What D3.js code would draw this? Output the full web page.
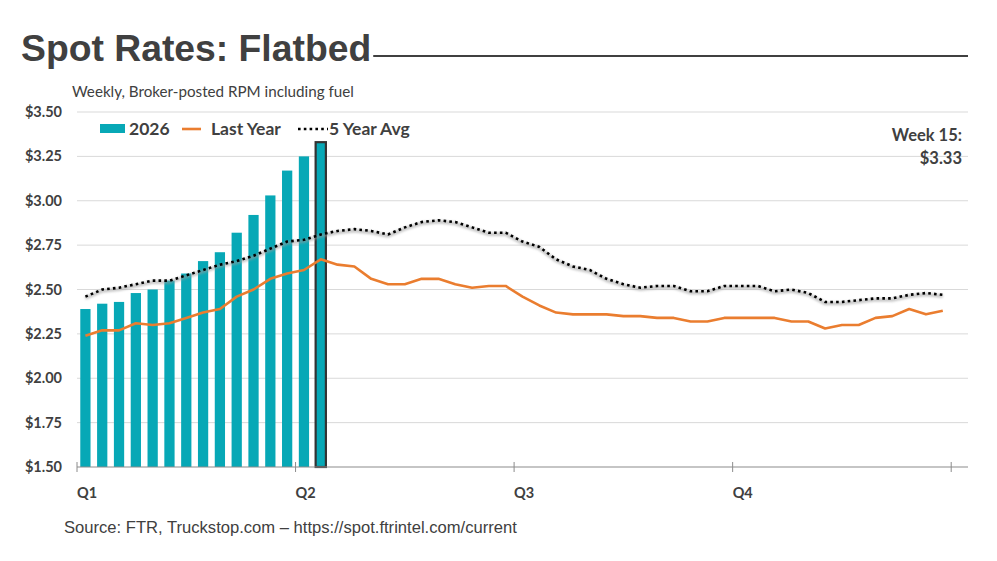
<!DOCTYPE html>
<html>
<head>
<meta charset="utf-8">
<script src="https://cdn.jsdelivr.net/npm/d3@7"></script>
<style>
  body { margin: 0; background: #fff; }
  svg { display: block; }
</style>
</head>
<body>
<div id="chart"></div>
<script>
// --- Data ---
const weeks = d3.range(1, 54);            // 53 category slots, ticks every 13
const quarterLabels = ["Q1", "Q2", "Q3", "Q4", ""];
const yTicks = [1.5, 1.75, 2.0, 2.25, 2.5, 2.75, 3.0, 3.25, 3.5];

const rates2026 = [2.39, 2.42, 2.43, 2.48, 2.50, 2.55, 2.59, 2.66, 2.71, 2.82,
                   2.92, 3.03, 3.17, 3.25, 3.33];

const lastYear = [2.24, 2.27, 2.27, 2.31, 2.30, 2.31, 2.34, 2.37, 2.39, 2.46,
                  2.50, 2.56, 2.59, 2.61, 2.67, 2.64, 2.63, 2.56, 2.53, 2.53,
                  2.56, 2.56, 2.53, 2.51, 2.52, 2.52, 2.46, 2.41, 2.37, 2.36,
                  2.36, 2.36, 2.35, 2.35, 2.34, 2.34, 2.32, 2.32, 2.34, 2.34,
                  2.34, 2.34, 2.32, 2.32, 2.28, 2.30, 2.30, 2.34, 2.35, 2.39,
                  2.36, 2.38];

const fiveYearAvg = [2.46, 2.50, 2.51, 2.53, 2.55, 2.55, 2.58, 2.61, 2.64, 2.66,
                     2.69, 2.73, 2.77, 2.78, 2.81, 2.83, 2.84, 2.83, 2.81, 2.85,
                     2.88, 2.89, 2.88, 2.85, 2.82, 2.82, 2.77, 2.74, 2.67, 2.63,
                     2.61, 2.56, 2.53, 2.51, 2.52, 2.52, 2.49, 2.49, 2.52, 2.52,
                     2.52, 2.49, 2.50, 2.48, 2.43, 2.43, 2.44, 2.45, 2.45, 2.47,
                     2.48, 2.47];

const currentWeek = 15;

// --- Setup ---
const width = 997, height = 561;
const margin = { left: 77, right: 29, top: 112, bottom: 94 };
const textColor = "#404040";
const calibri = "Lato, 'Open Sans', sans-serif";
const arial = "'Liberation Sans', Arial, sans-serif";

const svg = d3.select("#chart").append("svg")
    .attr("width", width)
    .attr("height", height);

const defs = svg.append("defs");
defs.append("filter").attr("id", "soft")
    .attr("x", "-5%").attr("y", "-50%").attr("width", "110%").attr("height", "200%")
    .append("feGaussianBlur").attr("stdDeviation", 1.3);

const x = d3.scaleBand()
    .domain(weeks)
    .range([margin.left, width - margin.right])
    .paddingInner(0.39)
    .paddingOuter(0.195);

const step = x.step();
const xc = i => x(weeks[i]) + x.bandwidth() / 2;

const y = d3.scaleLinear()
    .domain([1.5, 3.5])
    .range([height - margin.bottom, margin.top]);

// --- Title ---
const title = svg.append("text")
    .attr("x", 21).attr("y", 61)
    .attr("font-family", arial)
    .attr("font-weight", "bold")
    .attr("font-size", 37.3)
    .attr("fill", textColor)
    .text("Spot Rates: Flatbed");
const tw = title.node().getComputedTextLength();
svg.append("line")
    .attr("x1", 21 + tw + 2).attr("x2", 968)
    .attr("y1", 56).attr("y2", 56)
    .attr("stroke", textColor).attr("stroke-width", 2.2);

svg.append("text")
    .attr("x", 72).attr("y", 97)
    .attr("font-family", calibri)
    .attr("font-size", 15.2)
    .attr("fill", textColor)
    .text("Weekly, Broker-posted RPM including fuel");

// --- Grid + y axis labels ---
svg.append("g")
    .selectAll("line")
    .data(yTicks.slice(1))
    .join("line")
    .attr("x1", margin.left).attr("x2", width - margin.right)
    .attr("y1", d => y(d)).attr("y2", d => y(d))
    .attr("stroke", "#d9d9d9").attr("stroke-width", 1);

svg.append("g")
    .selectAll("text")
    .data(yTicks)
    .join("text")
    .attr("x", 62).attr("y", d => y(d))
    .attr("dy", "0.35em")
    .attr("text-anchor", "end")
    .attr("font-family", calibri)
    .attr("font-weight", "bold")
    .attr("font-size", 14.5)
    .attr("fill", textColor)
    .text(d => "$" + d.toFixed(2));

// --- Bars ---
svg.append("g")
    .selectAll("rect")
    .data(rates2026)
    .join("rect")
    .attr("x", (d, i) => x(weeks[i]))
    .attr("width", x.bandwidth())
    .attr("y", d => y(d))
    .attr("height", d => y(1.5) - y(d))
    .attr("fill", "#07a8b6")
    .attr("stroke", (d, i) => i === currentWeek - 1 ? "#333" : "none")
    .attr("stroke-width", 2.2);

// --- Lines ---
const line = d3.line()
    .x((d, i) => xc(i))
    .y(d => y(d));

// shadow under the 5 year avg
svg.append("path")
    .datum(fiveYearAvg)
    .attr("d", line)
    .attr("fill", "none")
    .attr("stroke", "#9a9a9a")
    .attr("stroke-width", 3.5)
    .attr("stroke-opacity", 0.55)
    .attr("transform", "translate(0,1.5)")
    .attr("filter", "url(#soft)");

svg.append("path")
    .datum(lastYear)
    .attr("d", line)
    .attr("fill", "none")
    .attr("stroke", "#ea7d2f")
    .attr("stroke-width", 2.6)
    .attr("stroke-linejoin", "round");

svg.append("path")
    .datum(fiveYearAvg)
    .attr("d", line)
    .attr("fill", "none")
    .attr("stroke", "#000")
    .attr("stroke-width", 2.6)
    .attr("stroke-dasharray", "2.6 3.2");

// --- X axis ---
const xAxisY = y(1.5);
const tickIdx = [0, 13, 26, 39, 52];
svg.append("line")
    .attr("x1", margin.left).attr("x2", width - margin.right)
    .attr("y1", xAxisY).attr("y2", xAxisY)
    .attr("stroke", "#8c8c8c").attr("stroke-width", 1.2);

const xt = svg.append("g")
    .selectAll("g")
    .data(tickIdx)
    .join("g")
    .attr("transform", d => `translate(${x(weeks[d]) - (step - x.bandwidth()) / 2},0)`);

xt.append("line")
    .attr("y1", xAxisY - 5).attr("y2", xAxisY + 5)
    .attr("stroke", "#8c8c8c").attr("stroke-width", 1);

xt.append("text")
    .attr("x", 0).attr("y", xAxisY + 31)
    .attr("font-family", calibri)
    .attr("font-weight", "bold")
    .attr("font-size", 14.5)
    .attr("fill", textColor)
    .text((d, i) => quarterLabels[i]);

// --- Legend ---
const legend = svg.append("g")
    .attr("font-family", calibri)
    .attr("font-weight", "bold")
    .attr("font-size", 17.5)
    .attr("fill", textColor);

legend.append("rect")
    .attr("x", 100).attr("y", 124).attr("width", 25).attr("height", 9)
    .attr("fill", "#07a8b6");
legend.append("text").attr("x", 129).attr("y", 135).text("2026");

legend.append("line")
    .attr("x1", 182).attr("x2", 201).attr("y1", 129).attr("y2", 129)
    .attr("stroke", "#ea7d2f").attr("stroke-width", 2.6);
legend.append("text").attr("x", 211).attr("y", 135).text("Last Year");

legend.append("line")
    .attr("x1", 298).attr("x2", 328).attr("y1", 129).attr("y2", 129)
    .attr("stroke", "#000").attr("stroke-width", 2.6)
    .attr("stroke-dasharray", "2.6 3.2");
legend.append("text").attr("x", 329).attr("y", 135).text("5 Year Avg");

// --- Annotation ---
const ann = svg.append("g")
    .attr("font-family", calibri)
    .attr("font-weight", "bold")
    .attr("font-size", 16.5)
    .attr("fill", textColor)
    .attr("text-anchor", "end");
ann.append("text").attr("x", 962).attr("y", 141).text(`Week ${currentWeek}:`);
ann.append("text").attr("x", 962).attr("y", 164)
    .text("$" + rates2026[currentWeek - 1].toFixed(2));

// --- Source ---
svg.append("text")
    .attr("x", 64).attr("y", 533)
    .attr("font-family", arial)
    .attr("font-size", 16.6)
    .attr("fill", textColor)
    .text("Source: FTR, Truckstop.com \u2013 https://spot.ftrintel.com/current");
</script>
</body>
</html>
